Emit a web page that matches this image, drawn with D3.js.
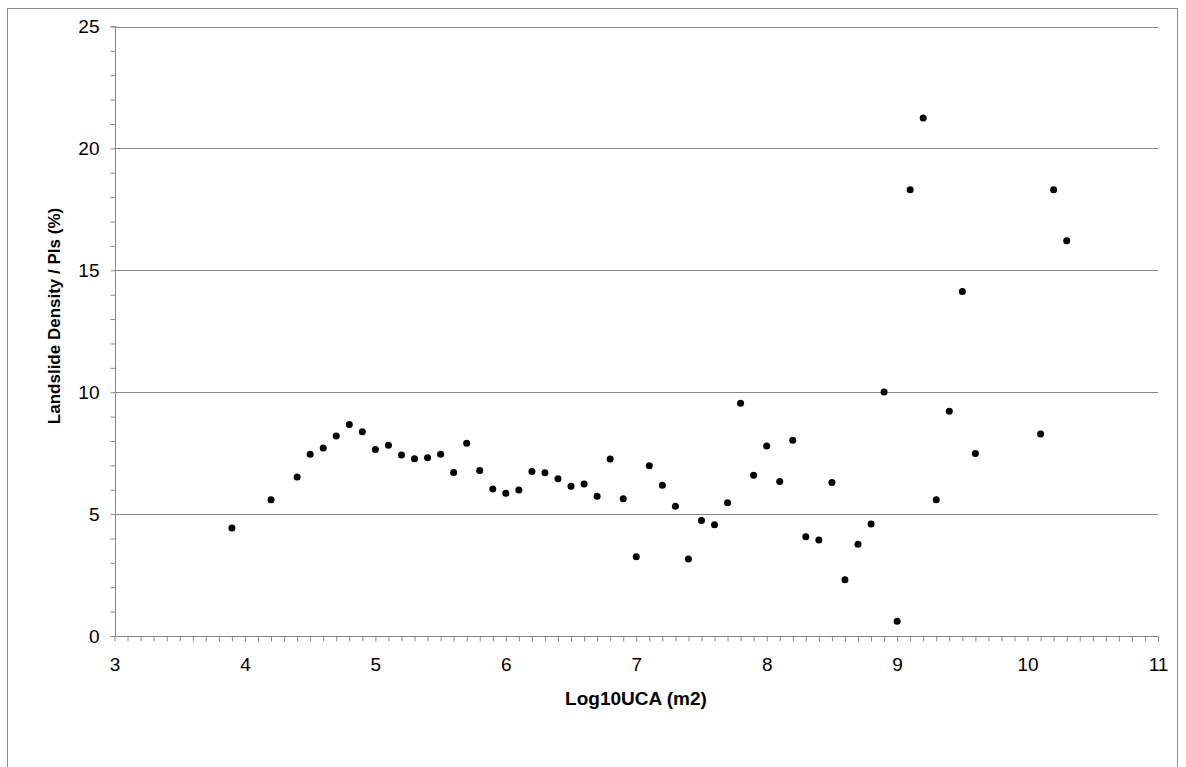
<!DOCTYPE html>
<html>
<head>
<meta charset="utf-8">
<script src="https://cdn.jsdelivr.net/npm/d3@7"></script>
<style>
  body { margin: 0; background: #fff; }
  svg { display: block; font-family: "Liberation Sans", Arial, sans-serif; }
</style>
</head>
<body>
<svg id="chart" width="1186" height="767"></svg>
<script>
const logUCA = [3.9, 4.2, 4.4, 4.5, 4.6, 4.7, 4.8, 4.9, 5.0, 5.1, 5.2, 5.3, 5.4, 5.5, 5.6, 5.7, 5.8, 5.9,
  6.0, 6.1, 6.2, 6.3, 6.4, 6.5, 6.6, 6.7, 6.8, 6.9, 7.0, 7.1, 7.2, 7.3, 7.4, 7.5, 7.6, 7.7, 7.8, 7.9,
  8.0, 8.1, 8.2, 8.3, 8.4, 8.5, 8.6, 8.7, 8.8, 8.9, 9.0, 9.1, 9.2, 9.3, 9.4, 9.5, 9.6, 10.1, 10.2, 10.3];
const density = [4.43, 5.59, 6.52, 7.46, 7.71, 8.20, 8.68, 8.38, 7.65, 7.82, 7.42, 7.27, 7.31, 7.46, 6.71, 7.91, 6.79, 6.03,
  5.86, 5.99, 6.75, 6.70, 6.45, 6.14, 6.23, 5.73, 7.26, 5.63, 3.25, 6.98, 6.18, 5.32, 3.16, 4.74, 4.56, 5.47, 9.55, 6.59,
  7.79, 6.34, 8.03, 4.07, 3.94, 6.30, 2.31, 3.76, 4.59, 10.01, 0.61, 18.30, 21.25, 5.59, 9.22, 14.13, 7.49, 8.29, 18.30, 16.21];
const xTickLabels = [3, 4, 5, 6, 7, 8, 9, 10, 11];
const yTickLabels = [0, 5, 10, 15, 20, 25];
const xTitle = "Log10UCA (m2)";
const yTitle = "Landslide Density / PIs (%)";

const svg = d3.select("#chart");
const grey = "#878787";

// outer chart border
svg.append("rect").attr("x", 7.5).attr("y", 8.5).attr("width", 1170).attr("height", 780)
  .attr("fill", "none").attr("stroke", "#8c8c8c").attr("stroke-width", 1);

const x = d3.scaleLinear().domain([3, 11]).range([114.5, 1158]);
const y = d3.scaleLinear().domain([0, 25]).range([636, 26.5]);

// gridlines
svg.append("g").selectAll("line").data(yTickLabels.filter(d => d > 0)).join("line")
  .attr("x1", x(3)).attr("x2", x(11))
  .attr("y1", d => Math.round(y(d)) + 0.5).attr("y2", d => Math.round(y(d)) + 0.5)
  .attr("stroke", grey).attr("stroke-width", 1);

// y axis
const yMinor = d3.range(0, 26, 1);
const yAxis = d3.axisLeft(y).tickValues(yMinor).tickSize(5).tickPadding(11)
  .tickFormat(d => (d % 5 === 0 ? d : ""));
const gy = svg.append("g").attr("transform", `translate(${Math.round(x(3)) + 0.5},0)`).call(yAxis);
gy.selectAll("path, line").attr("stroke", grey);
gy.select(".domain").attr("d", `M-5,${y(25)}H0V${y(0)}`);
gy.selectAll("text").attr("font-size", 19).attr("fill", "#000")
  .attr("font-family", "'Liberation Sans', Arial, sans-serif");

// x axis
const xMinor = d3.range(30, 111, 1).map(d => d / 10);
const xAxis = d3.axisBottom(x).tickValues(xMinor).tickSize(5).tickPadding(16)
  .tickFormat(d => (xTickLabels.includes(Math.round(d * 10) / 10) && Math.abs(d - Math.round(d)) < 1e-9 ? Math.round(d) : ""));
const gx = svg.append("g").attr("transform", `translate(0,${Math.round(y(0)) + 0.5})`).call(xAxis);
gx.selectAll("path, line").attr("stroke", grey);
gx.select(".domain").attr("d", `M${x(3)},0H${x(11)}`);
gx.selectAll("text").attr("font-size", 19).attr("fill", "#000")
  .attr("font-family", "'Liberation Sans', Arial, sans-serif");

// points
svg.append("g").selectAll("circle").data(logUCA.map((v, i) => [v, density[i]])).join("circle")
  .attr("cx", d => x(d[0])).attr("cy", d => y(d[1])).attr("r", 3.5).attr("fill", "#000");

// titles
svg.append("text").attr("x", 636).attr("y", 705).attr("text-anchor", "middle")
  .attr("font-size", 19).attr("font-weight", "bold").text(xTitle);
svg.append("text").attr("transform", "translate(60,316) rotate(-90)").attr("text-anchor", "middle")
  .attr("font-size", 17).attr("font-weight", "bold").text(yTitle);
</script>
</body>
</html>
